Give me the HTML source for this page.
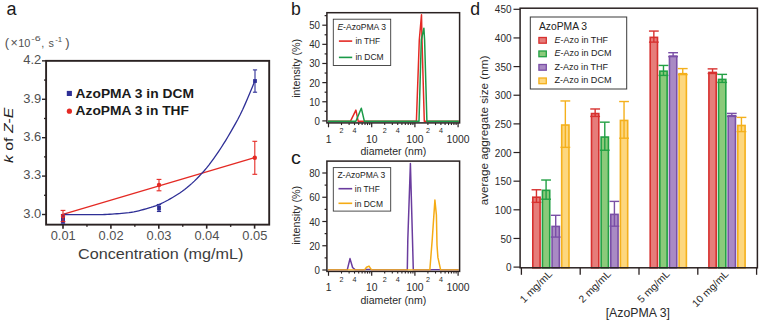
<!DOCTYPE html>
<html><head><meta charset="utf-8"><style>
html,body{margin:0;padding:0;background:#fff;overflow:hidden;width:760px;height:322px;}
svg{display:block;font-family:"Liberation Sans", sans-serif;}
</style></head><body>
<svg width="760" height="322" viewBox="0 0 760 322">
<rect width="760" height="322" fill="#fff"/>
<text x="6.5" y="15" font-size="18" fill="#1a1a1a" text-anchor="start" font-weight="normal" font-style="normal" >a</text>
<g fill="#505050">
<text x="4.8" y="46.6" font-size="13">(</text>
<text x="10.4" y="47" font-size="12.5">×</text>
<text x="18.2" y="46.8" font-size="10.8" textLength="12.2" lengthAdjust="spacingAndGlyphs">10</text>
<text x="31.3" y="41.3" font-size="7.4" textLength="9.5" lengthAdjust="spacingAndGlyphs">-6</text>
<text x="41.3" y="46.8" font-size="10.8">,</text>
<text x="48.6" y="46.8" font-size="10.8">s</text>
<text x="55.2" y="41.6" font-size="7.4" textLength="7" lengthAdjust="spacingAndGlyphs">-1</text>
<text x="65.2" y="46.6" font-size="13">)</text>
</g>
<rect x="46.1" y="60.85" width="223.1" height="163.8" fill="none" stroke="#2a2222" stroke-width="1.9"/>
<line x1="42.00" y1="214.50" x2="46.10" y2="214.50" stroke="#2a2222" stroke-width="1.4"/>
<text x="41.2" y="217.9" font-size="13" fill="#505050" text-anchor="end" font-weight="normal" font-style="normal" textLength="18.0" lengthAdjust="spacingAndGlyphs" >3.0</text>
<line x1="42.00" y1="176.09" x2="46.10" y2="176.09" stroke="#2a2222" stroke-width="1.4"/>
<text x="41.2" y="179.49000000000004" font-size="13" fill="#505050" text-anchor="end" font-weight="normal" font-style="normal" textLength="18.0" lengthAdjust="spacingAndGlyphs" >3.3</text>
<line x1="42.00" y1="137.68" x2="46.10" y2="137.68" stroke="#2a2222" stroke-width="1.4"/>
<text x="41.2" y="141.08" font-size="13" fill="#505050" text-anchor="end" font-weight="normal" font-style="normal" textLength="18.0" lengthAdjust="spacingAndGlyphs" >3.6</text>
<line x1="42.00" y1="99.27" x2="46.10" y2="99.27" stroke="#2a2222" stroke-width="1.4"/>
<text x="41.2" y="102.67000000000002" font-size="13" fill="#505050" text-anchor="end" font-weight="normal" font-style="normal" textLength="18.0" lengthAdjust="spacingAndGlyphs" >3.9</text>
<line x1="42.00" y1="60.86" x2="46.10" y2="60.86" stroke="#2a2222" stroke-width="1.4"/>
<text x="41.2" y="64.25999999999999" font-size="13" fill="#505050" text-anchor="end" font-weight="normal" font-style="normal" textLength="18.0" lengthAdjust="spacingAndGlyphs" >4.2</text>
<line x1="44.00" y1="195.30" x2="46.10" y2="195.30" stroke="#2a2222" stroke-width="1.3"/>
<line x1="44.00" y1="156.88" x2="46.10" y2="156.88" stroke="#2a2222" stroke-width="1.3"/>
<line x1="44.00" y1="118.48" x2="46.10" y2="118.48" stroke="#2a2222" stroke-width="1.3"/>
<line x1="44.00" y1="80.07" x2="46.10" y2="80.07" stroke="#2a2222" stroke-width="1.3"/>
<line x1="63.00" y1="224.65" x2="63.00" y2="228.65" stroke="#2a2222" stroke-width="1.6"/>
<text x="63.2" y="240" font-size="13" fill="#505050" text-anchor="middle" font-weight="normal" font-style="normal" textLength="25.0" lengthAdjust="spacingAndGlyphs" >0.01</text>
<line x1="110.90" y1="224.65" x2="110.90" y2="228.65" stroke="#2a2222" stroke-width="1.6"/>
<text x="111.10000000000001" y="240" font-size="13" fill="#505050" text-anchor="middle" font-weight="normal" font-style="normal" textLength="25.0" lengthAdjust="spacingAndGlyphs" >0.02</text>
<line x1="158.80" y1="224.65" x2="158.80" y2="228.65" stroke="#2a2222" stroke-width="1.6"/>
<text x="158.99999999999997" y="240" font-size="13" fill="#505050" text-anchor="middle" font-weight="normal" font-style="normal" textLength="25.0" lengthAdjust="spacingAndGlyphs" >0.03</text>
<line x1="206.70" y1="224.65" x2="206.70" y2="228.65" stroke="#2a2222" stroke-width="1.6"/>
<text x="206.89999999999998" y="240" font-size="13" fill="#505050" text-anchor="middle" font-weight="normal" font-style="normal" textLength="25.0" lengthAdjust="spacingAndGlyphs" >0.04</text>
<line x1="254.60" y1="224.65" x2="254.60" y2="228.65" stroke="#2a2222" stroke-width="1.6"/>
<text x="254.79999999999998" y="240" font-size="13" fill="#505050" text-anchor="middle" font-weight="normal" font-style="normal" textLength="25.0" lengthAdjust="spacingAndGlyphs" >0.05</text>
<line x1="86.95" y1="224.65" x2="86.95" y2="226.85" stroke="#2a2222" stroke-width="1.4"/>
<line x1="134.85" y1="224.65" x2="134.85" y2="226.85" stroke="#2a2222" stroke-width="1.4"/>
<line x1="182.75" y1="224.65" x2="182.75" y2="226.85" stroke="#2a2222" stroke-width="1.4"/>
<line x1="230.65" y1="224.65" x2="230.65" y2="226.85" stroke="#2a2222" stroke-width="1.4"/>
<text x="78" y="258.8" font-size="14.6" fill="#3c3c3c" text-anchor="start" font-weight="normal" font-style="normal" textLength="165.4" lengthAdjust="spacingAndGlyphs" >Concentration (mg/mL)</text>
<text transform="translate(13,163) rotate(-90)" font-size="13.4" fill="#222" textLength="55.4" lengthAdjust="spacingAndGlyphs"><tspan font-style="italic">k</tspan> of <tspan font-style="italic">Z</tspan>-<tspan font-style="italic">E</tspan></text>
<polyline points="63.70,214.20 254.60,157.60" fill="none" stroke="#e42a24" stroke-width="1.3" stroke-linejoin="round" />
<polyline points="63.70,214.50 66.12,214.52 68.54,214.54 70.96,214.55 73.38,214.56 75.79,214.57 78.21,214.58 80.63,214.59 83.05,214.59 85.47,214.59 87.89,214.60 90.31,214.60 92.73,214.60 95.15,214.60 97.57,214.60 99.98,214.59 102.40,214.55 104.82,214.48 107.24,214.39 109.66,214.26 112.08,214.12 114.50,213.95 116.92,213.76 119.34,213.56 121.76,213.34 124.17,213.12 126.59,212.88 129.01,212.62 131.43,212.26 133.85,211.83 136.27,211.32 138.69,210.76 141.11,210.15 143.53,209.50 145.95,208.84 148.36,208.16 150.78,207.48 153.20,206.72 155.62,205.86 158.04,204.89 160.46,203.85 162.88,202.72 165.30,201.53 167.72,200.26 170.14,198.92 172.55,197.52 174.97,196.05 177.39,194.52 179.81,192.93 182.23,191.25 184.65,189.45 187.07,187.54 189.49,185.51 191.91,183.37 194.33,181.11 196.74,178.75 199.16,176.27 201.58,173.68 204.00,170.96 206.42,168.09 208.84,165.08 211.26,161.92 213.68,158.63 216.10,155.21 218.52,151.66 220.93,147.99 223.35,144.20 225.77,140.29 228.19,136.28 230.61,132.16 233.03,127.94 235.45,123.62 237.87,119.19 240.29,114.47 242.71,109.43 245.12,104.11 247.54,98.57 249.96,92.84 252.38,86.97 254.80,81.00" fill="none" stroke="#2e2f96" stroke-width="1.3" stroke-linejoin="round" />
<line x1="63.00" y1="214.50" x2="63.00" y2="223.20" stroke="#2e2f96" stroke-width="1.1"/>
<line x1="60.90" y1="214.50" x2="65.10" y2="214.50" stroke="#2e2f96" stroke-width="1.1"/>
<line x1="60.90" y1="223.20" x2="65.10" y2="223.20" stroke="#2e2f96" stroke-width="1.1"/>
<rect x="61.1" y="217.0" width="3.8" height="3.8" fill="#2e2f96"/>
<line x1="159.00" y1="204.50" x2="159.00" y2="211.50" stroke="#2e2f96" stroke-width="1.1"/>
<line x1="156.90" y1="204.50" x2="161.10" y2="204.50" stroke="#2e2f96" stroke-width="1.1"/>
<line x1="156.90" y1="211.50" x2="161.10" y2="211.50" stroke="#2e2f96" stroke-width="1.1"/>
<rect x="157.1" y="205.7" width="3.8" height="4.8" fill="#2e2f96"/>
<line x1="255.00" y1="69.90" x2="255.00" y2="92.20" stroke="#2e2f96" stroke-width="1.1"/>
<line x1="252.90" y1="69.90" x2="257.10" y2="69.90" stroke="#2e2f96" stroke-width="1.1"/>
<line x1="252.90" y1="92.20" x2="257.10" y2="92.20" stroke="#2e2f96" stroke-width="1.1"/>
<rect x="253.1" y="79.1" width="3.8" height="3.8" fill="#2e2f96"/>
<rect x="61.1" y="214.0" width="3.7" height="9.0" fill="#2e2f96"/>
<line x1="63.00" y1="210.40" x2="63.00" y2="221.60" stroke="#e42a24" stroke-width="1.1"/>
<line x1="60.60" y1="210.40" x2="65.40" y2="210.40" stroke="#e42a24" stroke-width="1.1"/>
<line x1="60.60" y1="221.60" x2="65.40" y2="221.60" stroke="#e42a24" stroke-width="1.1"/>
<circle cx="63" cy="216" r="1.7" fill="none" stroke="#e42a24" stroke-width="1.1"/>
<line x1="159.00" y1="179.40" x2="159.00" y2="190.80" stroke="#e42a24" stroke-width="1.1"/>
<line x1="156.60" y1="179.40" x2="161.40" y2="179.40" stroke="#e42a24" stroke-width="1.1"/>
<line x1="156.60" y1="190.80" x2="161.40" y2="190.80" stroke="#e42a24" stroke-width="1.1"/>
<circle cx="159" cy="185.0" r="2.2" fill="#e42a24"/>
<line x1="254.80" y1="141.30" x2="254.80" y2="174.30" stroke="#e42a24" stroke-width="1.1"/>
<line x1="252.40" y1="141.30" x2="257.20" y2="141.30" stroke="#e42a24" stroke-width="1.1"/>
<line x1="252.40" y1="174.30" x2="257.20" y2="174.30" stroke="#e42a24" stroke-width="1.1"/>
<circle cx="254.8" cy="157.7" r="2.2" fill="#e42a24"/>
<rect x="66.8" y="90.9" width="5.1" height="5.1" fill="#2e2f96"/>
<circle cx="69.4" cy="111.2" r="2.6" fill="#e42a24"/>
<text x="75.6" y="97.8" font-size="13.7" fill="#1a1a1a" text-anchor="start" font-weight="bold" font-style="normal" textLength="118.3" lengthAdjust="spacingAndGlyphs" >AzoPMA 3 in DCM</text>
<text x="75.6" y="115.3" font-size="13.7" fill="#1a1a1a" text-anchor="start" font-weight="bold" font-style="normal" textLength="113.3" lengthAdjust="spacingAndGlyphs" >AzoPMA 3 in THF</text>
<text x="291.0" y="14.9" font-size="18" fill="#1a1a1a" text-anchor="start" font-weight="normal" font-style="normal" textLength="9.8" lengthAdjust="spacingAndGlyphs" >b</text>
<rect x="326.9" y="12.7" width="132.70000000000005" height="110.2" fill="none" stroke="#2a2222" stroke-width="1.5"/>
<line x1="322.30" y1="120.90" x2="326.90" y2="120.90" stroke="#2a2222" stroke-width="1.2"/>
<text x="320.0" y="124.9" font-size="10.4" fill="#2a2a2a" text-anchor="end" font-weight="normal" font-style="normal" textLength="5.4" lengthAdjust="spacingAndGlyphs" >0</text>
<line x1="322.30" y1="101.76" x2="326.90" y2="101.76" stroke="#2a2222" stroke-width="1.2"/>
<text x="320.0" y="105.76" font-size="10.4" fill="#2a2a2a" text-anchor="end" font-weight="normal" font-style="normal" textLength="10.8" lengthAdjust="spacingAndGlyphs" >10</text>
<line x1="322.30" y1="82.62" x2="326.90" y2="82.62" stroke="#2a2222" stroke-width="1.2"/>
<text x="320.0" y="86.62" font-size="10.4" fill="#2a2a2a" text-anchor="end" font-weight="normal" font-style="normal" textLength="10.8" lengthAdjust="spacingAndGlyphs" >20</text>
<line x1="322.30" y1="63.48" x2="326.90" y2="63.48" stroke="#2a2222" stroke-width="1.2"/>
<text x="320.0" y="67.48000000000002" font-size="10.4" fill="#2a2a2a" text-anchor="end" font-weight="normal" font-style="normal" textLength="10.8" lengthAdjust="spacingAndGlyphs" >30</text>
<line x1="322.30" y1="44.34" x2="326.90" y2="44.34" stroke="#2a2222" stroke-width="1.2"/>
<text x="320.0" y="48.34" font-size="10.4" fill="#2a2a2a" text-anchor="end" font-weight="normal" font-style="normal" textLength="10.8" lengthAdjust="spacingAndGlyphs" >40</text>
<line x1="322.30" y1="25.20" x2="326.90" y2="25.20" stroke="#2a2222" stroke-width="1.2"/>
<text x="320.0" y="29.200000000000003" font-size="10.4" fill="#2a2a2a" text-anchor="end" font-weight="normal" font-style="normal" textLength="10.8" lengthAdjust="spacingAndGlyphs" >50</text>
<line x1="324.60" y1="111.33" x2="326.90" y2="111.33" stroke="#2a2222" stroke-width="1.2"/>
<line x1="324.60" y1="92.19" x2="326.90" y2="92.19" stroke="#2a2222" stroke-width="1.2"/>
<line x1="324.60" y1="73.05" x2="326.90" y2="73.05" stroke="#2a2222" stroke-width="1.2"/>
<line x1="324.60" y1="53.91" x2="326.90" y2="53.91" stroke="#2a2222" stroke-width="1.2"/>
<line x1="324.60" y1="34.77" x2="326.90" y2="34.77" stroke="#2a2222" stroke-width="1.2"/>
<line x1="324.60" y1="15.63" x2="326.90" y2="15.63" stroke="#2a2222" stroke-width="1.2"/>
<line x1="328.50" y1="122.90" x2="328.50" y2="127.30" stroke="#2a2222" stroke-width="1.2"/>
<line x1="341.50" y1="122.90" x2="341.50" y2="125.10" stroke="#2a2222" stroke-width="1.1"/>
<text x="341.504495812684" y="133.4" font-size="7.6" fill="#2a2a2a" text-anchor="middle" font-weight="normal" font-style="normal" textLength="4.0" lengthAdjust="spacingAndGlyphs" >2</text>
<line x1="349.11" y1="122.90" x2="349.11" y2="125.10" stroke="#2a2222" stroke-width="1.1"/>
<line x1="354.51" y1="122.90" x2="354.51" y2="125.10" stroke="#2a2222" stroke-width="1.1"/>
<text x="354.50899162536797" y="133.4" font-size="7.6" fill="#2a2a2a" text-anchor="middle" font-weight="normal" font-style="normal" textLength="4.0" lengthAdjust="spacingAndGlyphs" >4</text>
<line x1="358.70" y1="122.90" x2="358.70" y2="125.10" stroke="#2a2222" stroke-width="1.1"/>
<line x1="362.12" y1="122.90" x2="362.12" y2="125.10" stroke="#2a2222" stroke-width="1.1"/>
<line x1="365.01" y1="122.90" x2="365.01" y2="125.10" stroke="#2a2222" stroke-width="1.1"/>
<line x1="367.51" y1="122.90" x2="367.51" y2="125.10" stroke="#2a2222" stroke-width="1.1"/>
<line x1="369.72" y1="122.90" x2="369.72" y2="125.10" stroke="#2a2222" stroke-width="1.1"/>
<line x1="371.70" y1="122.90" x2="371.70" y2="127.30" stroke="#2a2222" stroke-width="1.2"/>
<line x1="384.70" y1="122.90" x2="384.70" y2="125.10" stroke="#2a2222" stroke-width="1.1"/>
<text x="384.704495812684" y="133.4" font-size="7.6" fill="#2a2a2a" text-anchor="middle" font-weight="normal" font-style="normal" textLength="4.0" lengthAdjust="spacingAndGlyphs" >2</text>
<line x1="392.31" y1="122.90" x2="392.31" y2="125.10" stroke="#2a2222" stroke-width="1.1"/>
<line x1="397.71" y1="122.90" x2="397.71" y2="125.10" stroke="#2a2222" stroke-width="1.1"/>
<text x="397.70899162536796" y="133.4" font-size="7.6" fill="#2a2a2a" text-anchor="middle" font-weight="normal" font-style="normal" textLength="4.0" lengthAdjust="spacingAndGlyphs" >4</text>
<line x1="401.90" y1="122.90" x2="401.90" y2="125.10" stroke="#2a2222" stroke-width="1.1"/>
<line x1="405.32" y1="122.90" x2="405.32" y2="125.10" stroke="#2a2222" stroke-width="1.1"/>
<line x1="408.21" y1="122.90" x2="408.21" y2="125.10" stroke="#2a2222" stroke-width="1.1"/>
<line x1="410.71" y1="122.90" x2="410.71" y2="125.10" stroke="#2a2222" stroke-width="1.1"/>
<line x1="412.92" y1="122.90" x2="412.92" y2="125.10" stroke="#2a2222" stroke-width="1.1"/>
<line x1="414.90" y1="122.90" x2="414.90" y2="127.30" stroke="#2a2222" stroke-width="1.2"/>
<line x1="427.90" y1="122.90" x2="427.90" y2="125.10" stroke="#2a2222" stroke-width="1.1"/>
<text x="427.904495812684" y="133.4" font-size="7.6" fill="#2a2a2a" text-anchor="middle" font-weight="normal" font-style="normal" textLength="4.0" lengthAdjust="spacingAndGlyphs" >2</text>
<line x1="435.51" y1="122.90" x2="435.51" y2="125.10" stroke="#2a2222" stroke-width="1.1"/>
<line x1="440.91" y1="122.90" x2="440.91" y2="125.10" stroke="#2a2222" stroke-width="1.1"/>
<text x="440.908991625368" y="133.4" font-size="7.6" fill="#2a2a2a" text-anchor="middle" font-weight="normal" font-style="normal" textLength="4.0" lengthAdjust="spacingAndGlyphs" >4</text>
<line x1="445.10" y1="122.90" x2="445.10" y2="125.10" stroke="#2a2222" stroke-width="1.1"/>
<line x1="448.52" y1="122.90" x2="448.52" y2="125.10" stroke="#2a2222" stroke-width="1.1"/>
<line x1="451.41" y1="122.90" x2="451.41" y2="125.10" stroke="#2a2222" stroke-width="1.1"/>
<line x1="453.91" y1="122.90" x2="453.91" y2="125.10" stroke="#2a2222" stroke-width="1.1"/>
<line x1="456.12" y1="122.90" x2="456.12" y2="125.10" stroke="#2a2222" stroke-width="1.1"/>
<line x1="458.10" y1="122.90" x2="458.10" y2="127.30" stroke="#2a2222" stroke-width="1.2"/>
<text x="328.5" y="142.5" font-size="10.6" fill="#2a2a2a" text-anchor="middle" font-weight="normal" font-style="normal" textLength="5.75" lengthAdjust="spacingAndGlyphs" >1</text>
<text x="371.7" y="142.5" font-size="10.6" fill="#2a2a2a" text-anchor="middle" font-weight="normal" font-style="normal" textLength="11.5" lengthAdjust="spacingAndGlyphs" >10</text>
<text x="414.9" y="142.5" font-size="10.6" fill="#2a2a2a" text-anchor="middle" font-weight="normal" font-style="normal" textLength="17.25" lengthAdjust="spacingAndGlyphs" >100</text>
<text x="458.1" y="142.5" font-size="10.6" fill="#2a2a2a" text-anchor="middle" font-weight="normal" font-style="normal" textLength="23.0" lengthAdjust="spacingAndGlyphs" >1000</text>
<text x="360.5" y="155.10000000000002" font-size="10.6" fill="#2a2a2a" text-anchor="start" font-weight="normal" font-style="normal" textLength="65.7" lengthAdjust="spacingAndGlyphs" >diameter (nm)</text>
<text transform="translate(300,68.3) rotate(-90)" font-size="10.4" fill="#2a2a2a" text-anchor="middle" textLength="59" lengthAdjust="spacingAndGlyphs">intensity (%)</text>
<clipPath id="clipb"><rect x="327.7" y="13.5" width="131.10000000000005" height="108.60000000000001"/></clipPath>
<g clip-path="url(#clipb)">
<polyline points="328.00,121.30 350.40,121.30 355.90,110.10 358.20,121.30 416.40,121.30 419.30,40.00 421.50,14.70 422.00,40.00 424.30,121.30 460.00,121.30" fill="none" stroke="#e42a24" stroke-width="1.5" stroke-linejoin="round" />
<polyline points="328.00,121.30 355.90,121.30 361.30,108.20 364.40,121.30 419.00,121.30 421.30,40.00 423.90,28.20 424.60,40.00 426.90,121.30 460.00,121.30" fill="none" stroke="#1a9a48" stroke-width="1.5" stroke-linejoin="round" />
</g>
<rect x="333.3" y="19.2" width="57.4" height="46.3" fill="#fff" stroke="#3a3a3a" stroke-width="0.9"/>
<text x="337.4" y="30" font-size="9.2" fill="#222" textLength="48.5" lengthAdjust="spacingAndGlyphs"><tspan font-style="italic">E</tspan>-AzoPMA 3</text>
<line x1="338.90" y1="41.10" x2="352.20" y2="41.10" stroke="#e42a24" stroke-width="1.6"/>
<text x="355.4" y="44.1" font-size="9.2" fill="#222" text-anchor="start" font-weight="normal" font-style="normal" textLength="24.8" lengthAdjust="spacingAndGlyphs" >in THF</text>
<line x1="338.90" y1="57.40" x2="352.20" y2="57.40" stroke="#1a9a48" stroke-width="1.6"/>
<text x="355.4" y="60.4" font-size="9.2" fill="#222" text-anchor="start" font-weight="normal" font-style="normal" textLength="28.3" lengthAdjust="spacingAndGlyphs" >in DCM</text>
<text x="291.0" y="163.8" font-size="18" fill="#1a1a1a" text-anchor="start" font-weight="normal" font-style="normal" textLength="9.8" lengthAdjust="spacingAndGlyphs" >c</text>
<rect x="326.9" y="161.1" width="132.70000000000005" height="110.29999999999998" fill="none" stroke="#2a2222" stroke-width="1.5"/>
<line x1="322.30" y1="270.00" x2="326.90" y2="270.00" stroke="#2a2222" stroke-width="1.2"/>
<text x="320.0" y="274.0" font-size="10.4" fill="#2a2a2a" text-anchor="end" font-weight="normal" font-style="normal" textLength="5.4" lengthAdjust="spacingAndGlyphs" >0</text>
<line x1="322.30" y1="245.75" x2="326.90" y2="245.75" stroke="#2a2222" stroke-width="1.2"/>
<text x="320.0" y="249.75" font-size="10.4" fill="#2a2a2a" text-anchor="end" font-weight="normal" font-style="normal" textLength="10.8" lengthAdjust="spacingAndGlyphs" >20</text>
<line x1="322.30" y1="221.50" x2="326.90" y2="221.50" stroke="#2a2222" stroke-width="1.2"/>
<text x="320.0" y="225.5" font-size="10.4" fill="#2a2a2a" text-anchor="end" font-weight="normal" font-style="normal" textLength="10.8" lengthAdjust="spacingAndGlyphs" >40</text>
<line x1="322.30" y1="197.25" x2="326.90" y2="197.25" stroke="#2a2222" stroke-width="1.2"/>
<text x="320.0" y="201.25" font-size="10.4" fill="#2a2a2a" text-anchor="end" font-weight="normal" font-style="normal" textLength="10.8" lengthAdjust="spacingAndGlyphs" >60</text>
<line x1="322.30" y1="173.00" x2="326.90" y2="173.00" stroke="#2a2222" stroke-width="1.2"/>
<text x="320.0" y="177.0" font-size="10.4" fill="#2a2a2a" text-anchor="end" font-weight="normal" font-style="normal" textLength="10.8" lengthAdjust="spacingAndGlyphs" >80</text>
<line x1="324.60" y1="257.88" x2="326.90" y2="257.88" stroke="#2a2222" stroke-width="1.2"/>
<line x1="324.60" y1="233.62" x2="326.90" y2="233.62" stroke="#2a2222" stroke-width="1.2"/>
<line x1="324.60" y1="209.38" x2="326.90" y2="209.38" stroke="#2a2222" stroke-width="1.2"/>
<line x1="324.60" y1="185.12" x2="326.90" y2="185.12" stroke="#2a2222" stroke-width="1.2"/>
<line x1="328.50" y1="271.40" x2="328.50" y2="275.80" stroke="#2a2222" stroke-width="1.2"/>
<line x1="341.50" y1="271.40" x2="341.50" y2="273.60" stroke="#2a2222" stroke-width="1.1"/>
<text x="341.504495812684" y="281.9" font-size="7.6" fill="#2a2a2a" text-anchor="middle" font-weight="normal" font-style="normal" textLength="4.0" lengthAdjust="spacingAndGlyphs" >2</text>
<line x1="349.11" y1="271.40" x2="349.11" y2="273.60" stroke="#2a2222" stroke-width="1.1"/>
<line x1="354.51" y1="271.40" x2="354.51" y2="273.60" stroke="#2a2222" stroke-width="1.1"/>
<text x="354.50899162536797" y="281.9" font-size="7.6" fill="#2a2a2a" text-anchor="middle" font-weight="normal" font-style="normal" textLength="4.0" lengthAdjust="spacingAndGlyphs" >4</text>
<line x1="358.70" y1="271.40" x2="358.70" y2="273.60" stroke="#2a2222" stroke-width="1.1"/>
<line x1="362.12" y1="271.40" x2="362.12" y2="273.60" stroke="#2a2222" stroke-width="1.1"/>
<line x1="365.01" y1="271.40" x2="365.01" y2="273.60" stroke="#2a2222" stroke-width="1.1"/>
<line x1="367.51" y1="271.40" x2="367.51" y2="273.60" stroke="#2a2222" stroke-width="1.1"/>
<line x1="369.72" y1="271.40" x2="369.72" y2="273.60" stroke="#2a2222" stroke-width="1.1"/>
<line x1="371.70" y1="271.40" x2="371.70" y2="275.80" stroke="#2a2222" stroke-width="1.2"/>
<line x1="384.70" y1="271.40" x2="384.70" y2="273.60" stroke="#2a2222" stroke-width="1.1"/>
<text x="384.704495812684" y="281.9" font-size="7.6" fill="#2a2a2a" text-anchor="middle" font-weight="normal" font-style="normal" textLength="4.0" lengthAdjust="spacingAndGlyphs" >2</text>
<line x1="392.31" y1="271.40" x2="392.31" y2="273.60" stroke="#2a2222" stroke-width="1.1"/>
<line x1="397.71" y1="271.40" x2="397.71" y2="273.60" stroke="#2a2222" stroke-width="1.1"/>
<text x="397.70899162536796" y="281.9" font-size="7.6" fill="#2a2a2a" text-anchor="middle" font-weight="normal" font-style="normal" textLength="4.0" lengthAdjust="spacingAndGlyphs" >4</text>
<line x1="401.90" y1="271.40" x2="401.90" y2="273.60" stroke="#2a2222" stroke-width="1.1"/>
<line x1="405.32" y1="271.40" x2="405.32" y2="273.60" stroke="#2a2222" stroke-width="1.1"/>
<line x1="408.21" y1="271.40" x2="408.21" y2="273.60" stroke="#2a2222" stroke-width="1.1"/>
<line x1="410.71" y1="271.40" x2="410.71" y2="273.60" stroke="#2a2222" stroke-width="1.1"/>
<line x1="412.92" y1="271.40" x2="412.92" y2="273.60" stroke="#2a2222" stroke-width="1.1"/>
<line x1="414.90" y1="271.40" x2="414.90" y2="275.80" stroke="#2a2222" stroke-width="1.2"/>
<line x1="427.90" y1="271.40" x2="427.90" y2="273.60" stroke="#2a2222" stroke-width="1.1"/>
<text x="427.904495812684" y="281.9" font-size="7.6" fill="#2a2a2a" text-anchor="middle" font-weight="normal" font-style="normal" textLength="4.0" lengthAdjust="spacingAndGlyphs" >2</text>
<line x1="435.51" y1="271.40" x2="435.51" y2="273.60" stroke="#2a2222" stroke-width="1.1"/>
<line x1="440.91" y1="271.40" x2="440.91" y2="273.60" stroke="#2a2222" stroke-width="1.1"/>
<text x="440.908991625368" y="281.9" font-size="7.6" fill="#2a2a2a" text-anchor="middle" font-weight="normal" font-style="normal" textLength="4.0" lengthAdjust="spacingAndGlyphs" >4</text>
<line x1="445.10" y1="271.40" x2="445.10" y2="273.60" stroke="#2a2222" stroke-width="1.1"/>
<line x1="448.52" y1="271.40" x2="448.52" y2="273.60" stroke="#2a2222" stroke-width="1.1"/>
<line x1="451.41" y1="271.40" x2="451.41" y2="273.60" stroke="#2a2222" stroke-width="1.1"/>
<line x1="453.91" y1="271.40" x2="453.91" y2="273.60" stroke="#2a2222" stroke-width="1.1"/>
<line x1="456.12" y1="271.40" x2="456.12" y2="273.60" stroke="#2a2222" stroke-width="1.1"/>
<line x1="458.10" y1="271.40" x2="458.10" y2="275.80" stroke="#2a2222" stroke-width="1.2"/>
<text x="328.5" y="291.0" font-size="10.6" fill="#2a2a2a" text-anchor="middle" font-weight="normal" font-style="normal" textLength="5.75" lengthAdjust="spacingAndGlyphs" >1</text>
<text x="371.7" y="291.0" font-size="10.6" fill="#2a2a2a" text-anchor="middle" font-weight="normal" font-style="normal" textLength="11.5" lengthAdjust="spacingAndGlyphs" >10</text>
<text x="414.9" y="291.0" font-size="10.6" fill="#2a2a2a" text-anchor="middle" font-weight="normal" font-style="normal" textLength="17.25" lengthAdjust="spacingAndGlyphs" >100</text>
<text x="458.1" y="291.0" font-size="10.6" fill="#2a2a2a" text-anchor="middle" font-weight="normal" font-style="normal" textLength="23.0" lengthAdjust="spacingAndGlyphs" >1000</text>
<text x="360.5" y="303.59999999999997" font-size="10.6" fill="#2a2a2a" text-anchor="start" font-weight="normal" font-style="normal" textLength="65.7" lengthAdjust="spacingAndGlyphs" >diameter (nm)</text>
<text transform="translate(300,215.3) rotate(-90)" font-size="10.4" fill="#2a2a2a" text-anchor="middle" textLength="59" lengthAdjust="spacingAndGlyphs">intensity (%)</text>
<clipPath id="clipc"><rect x="327.7" y="161.9" width="131.10000000000005" height="108.69999999999999"/></clipPath>
<g clip-path="url(#clipc)">
<polyline points="328.00,270.10 347.20,270.10 350.00,258.60 352.60,267.50 355.50,270.10 364.00,270.10 366.00,269.50 370.00,269.50 372.00,270.10 407.30,270.10 407.80,240.00 410.40,163.50 412.50,240.00 413.30,270.10 430.00,270.10 432.00,269.80 439.00,269.80 441.00,270.10 460.00,270.10" fill="none" stroke="#6a3c9e" stroke-width="1.5" stroke-linejoin="round" />
<polyline points="328.00,270.10 364.40,270.10 366.50,267.20 369.00,266.10 371.70,270.10 429.80,270.10 432.20,240.00 434.90,200.10 436.40,215.00 437.00,245.00 437.90,257.40 440.70,270.10 460.00,270.10" fill="none" stroke="#f5ab14" stroke-width="1.5" stroke-linejoin="round" />
</g>
<rect x="333.3" y="167.6" width="57.4" height="43.5" fill="#fff" stroke="#3a3a3a" stroke-width="0.9"/>
<text x="337.4" y="177.8" font-size="9.2" fill="#222" textLength="47.8" lengthAdjust="spacingAndGlyphs">Z-AzoPMA 3</text>
<line x1="338.50" y1="188.70" x2="352.20" y2="188.70" stroke="#6a3c9e" stroke-width="1.6"/>
<text x="354.8" y="192" font-size="9.2" fill="#222" text-anchor="start" font-weight="normal" font-style="normal" textLength="25" lengthAdjust="spacingAndGlyphs" >in THF</text>
<line x1="338.50" y1="203.30" x2="352.20" y2="203.30" stroke="#f5ab14" stroke-width="1.6"/>
<text x="354.8" y="207.2" font-size="9.2" fill="#222" text-anchor="start" font-weight="normal" font-style="normal" textLength="28.2" lengthAdjust="spacingAndGlyphs" >in DCM</text>
<text x="470.3" y="14.9" font-size="18" fill="#1a1a1a" text-anchor="start" font-weight="normal" font-style="normal" textLength="9.8" lengthAdjust="spacingAndGlyphs" >d</text>
<line x1="513.50" y1="267.10" x2="520.10" y2="267.10" stroke="#2a2222" stroke-width="1.2"/>
<text x="511.5" y="271.20000000000005" font-size="10.4" fill="#2a2a2a" text-anchor="end" font-weight="normal" font-style="normal" textLength="5.55" lengthAdjust="spacingAndGlyphs" >0</text>
<line x1="513.50" y1="238.46" x2="520.10" y2="238.46" stroke="#2a2222" stroke-width="1.2"/>
<text x="511.5" y="242.555" font-size="10.4" fill="#2a2a2a" text-anchor="end" font-weight="normal" font-style="normal" textLength="11.1" lengthAdjust="spacingAndGlyphs" >50</text>
<line x1="513.50" y1="209.81" x2="520.10" y2="209.81" stroke="#2a2222" stroke-width="1.2"/>
<text x="511.5" y="213.91000000000003" font-size="10.4" fill="#2a2a2a" text-anchor="end" font-weight="normal" font-style="normal" textLength="16.65" lengthAdjust="spacingAndGlyphs" >100</text>
<line x1="513.50" y1="181.17" x2="520.10" y2="181.17" stroke="#2a2222" stroke-width="1.2"/>
<text x="511.5" y="185.26500000000001" font-size="10.4" fill="#2a2a2a" text-anchor="end" font-weight="normal" font-style="normal" textLength="16.65" lengthAdjust="spacingAndGlyphs" >150</text>
<line x1="513.50" y1="152.52" x2="520.10" y2="152.52" stroke="#2a2222" stroke-width="1.2"/>
<text x="511.5" y="156.62000000000003" font-size="10.4" fill="#2a2a2a" text-anchor="end" font-weight="normal" font-style="normal" textLength="16.65" lengthAdjust="spacingAndGlyphs" >200</text>
<line x1="513.50" y1="123.88" x2="520.10" y2="123.88" stroke="#2a2222" stroke-width="1.2"/>
<text x="511.5" y="127.97500000000002" font-size="10.4" fill="#2a2a2a" text-anchor="end" font-weight="normal" font-style="normal" textLength="16.65" lengthAdjust="spacingAndGlyphs" >250</text>
<line x1="513.50" y1="95.23" x2="520.10" y2="95.23" stroke="#2a2222" stroke-width="1.2"/>
<text x="511.5" y="99.33000000000004" font-size="10.4" fill="#2a2a2a" text-anchor="end" font-weight="normal" font-style="normal" textLength="16.65" lengthAdjust="spacingAndGlyphs" >300</text>
<line x1="513.50" y1="66.59" x2="520.10" y2="66.59" stroke="#2a2222" stroke-width="1.2"/>
<text x="511.5" y="70.68500000000003" font-size="10.4" fill="#2a2a2a" text-anchor="end" font-weight="normal" font-style="normal" textLength="16.65" lengthAdjust="spacingAndGlyphs" >350</text>
<line x1="513.50" y1="37.94" x2="520.10" y2="37.94" stroke="#2a2222" stroke-width="1.2"/>
<text x="511.5" y="42.04000000000003" font-size="10.4" fill="#2a2a2a" text-anchor="end" font-weight="normal" font-style="normal" textLength="16.65" lengthAdjust="spacingAndGlyphs" >400</text>
<line x1="513.50" y1="9.30" x2="520.10" y2="9.30" stroke="#2a2222" stroke-width="1.2"/>
<text x="511.5" y="13.395000000000016" font-size="10.4" fill="#2a2a2a" text-anchor="end" font-weight="normal" font-style="normal" textLength="16.65" lengthAdjust="spacingAndGlyphs" >450</text>
<line x1="521.40" y1="267.80" x2="521.40" y2="274.80" stroke="#2a2222" stroke-width="1.3"/>
<line x1="580.20" y1="267.80" x2="580.20" y2="274.80" stroke="#2a2222" stroke-width="1.3"/>
<line x1="639.00" y1="267.80" x2="639.00" y2="274.80" stroke="#2a2222" stroke-width="1.3"/>
<line x1="697.80" y1="267.80" x2="697.80" y2="274.80" stroke="#2a2222" stroke-width="1.3"/>
<line x1="756.60" y1="267.80" x2="756.60" y2="274.80" stroke="#2a2222" stroke-width="1.3"/>
<text transform="translate(487.6,130.5) rotate(-90)" font-size="10.4" fill="#2a2a2a" text-anchor="middle" textLength="149.6" lengthAdjust="spacingAndGlyphs">average aggregate size (nm)</text>
<text x="605.7" y="317.1" font-size="13.2" fill="#2a2a2a" text-anchor="start" font-weight="normal" font-style="normal" textLength="64.3" lengthAdjust="spacingAndGlyphs" >[AzoPMA 3]</text>
<text transform="translate(552.8,274.7) rotate(-45)" font-size="10.2" fill="#2a2a2a" text-anchor="end" textLength="40.800000000000004" lengthAdjust="spacingAndGlyphs">1 mg/mL</text>
<text transform="translate(611.5999999999999,274.7) rotate(-45)" font-size="10.2" fill="#2a2a2a" text-anchor="end" textLength="40.800000000000004" lengthAdjust="spacingAndGlyphs">2 mg/mL</text>
<text transform="translate(670.4,274.7) rotate(-45)" font-size="10.2" fill="#2a2a2a" text-anchor="end" textLength="40.800000000000004" lengthAdjust="spacingAndGlyphs">5 mg/mL</text>
<text transform="translate(729.1999999999999,274.7) rotate(-45)" font-size="10.2" fill="#2a2a2a" text-anchor="end" textLength="46.7" lengthAdjust="spacingAndGlyphs">10 mg/mL</text>
<rect x="532.80" y="197.21" width="7.30" height="70.59" fill="#e67d7a" stroke="#d7312f" stroke-width="1.6"/>
<line x1="536.45" y1="189.76" x2="536.45" y2="202.36" stroke="#d7312f" stroke-width="1.4"/>
<line x1="531.55" y1="189.76" x2="541.35" y2="189.76" stroke="#d7312f" stroke-width="1.4"/>
<line x1="531.55" y1="202.36" x2="541.35" y2="202.36" stroke="#d7312f" stroke-width="1.4"/>
<rect x="542.43" y="190.33" width="7.30" height="77.47" fill="#8bca7a" stroke="#22a044" stroke-width="1.6"/>
<line x1="546.08" y1="180.02" x2="546.08" y2="199.21" stroke="#22a044" stroke-width="1.4"/>
<line x1="541.18" y1="180.02" x2="550.98" y2="180.02" stroke="#22a044" stroke-width="1.4"/>
<line x1="541.18" y1="199.21" x2="550.98" y2="199.21" stroke="#22a044" stroke-width="1.4"/>
<rect x="552.06" y="226.42" width="7.30" height="41.38" fill="#a98ac4" stroke="#7a4fa6" stroke-width="1.6"/>
<line x1="555.71" y1="215.31" x2="555.71" y2="237.08" stroke="#7a4fa6" stroke-width="1.4"/>
<line x1="550.81" y1="215.31" x2="560.61" y2="215.31" stroke="#7a4fa6" stroke-width="1.4"/>
<line x1="550.81" y1="237.08" x2="560.61" y2="237.08" stroke="#7a4fa6" stroke-width="1.4"/>
<rect x="561.69" y="125.02" width="7.30" height="142.78" fill="#fdd77e" stroke="#f4b01c" stroke-width="1.6"/>
<line x1="565.34" y1="100.96" x2="565.34" y2="147.36" stroke="#f4b01c" stroke-width="1.4"/>
<line x1="560.44" y1="100.96" x2="570.24" y2="100.96" stroke="#f4b01c" stroke-width="1.4"/>
<line x1="560.44" y1="147.36" x2="570.24" y2="147.36" stroke="#f4b01c" stroke-width="1.4"/>
<rect x="591.50" y="113.56" width="7.30" height="154.24" fill="#e67d7a" stroke="#d7312f" stroke-width="1.6"/>
<line x1="595.15" y1="108.98" x2="595.15" y2="116.43" stroke="#d7312f" stroke-width="1.4"/>
<line x1="590.25" y1="108.98" x2="600.05" y2="108.98" stroke="#d7312f" stroke-width="1.4"/>
<line x1="590.25" y1="116.43" x2="600.05" y2="116.43" stroke="#d7312f" stroke-width="1.4"/>
<rect x="601.13" y="137.05" width="7.30" height="130.75" fill="#8bca7a" stroke="#22a044" stroke-width="1.6"/>
<line x1="604.78" y1="122.16" x2="604.78" y2="150.23" stroke="#22a044" stroke-width="1.4"/>
<line x1="599.88" y1="122.16" x2="609.68" y2="122.16" stroke="#22a044" stroke-width="1.4"/>
<line x1="599.88" y1="150.23" x2="609.68" y2="150.23" stroke="#22a044" stroke-width="1.4"/>
<rect x="610.76" y="214.39" width="7.30" height="53.41" fill="#a98ac4" stroke="#7a4fa6" stroke-width="1.6"/>
<line x1="614.41" y1="201.39" x2="614.41" y2="226.19" stroke="#7a4fa6" stroke-width="1.4"/>
<line x1="609.51" y1="201.39" x2="619.31" y2="201.39" stroke="#7a4fa6" stroke-width="1.4"/>
<line x1="609.51" y1="226.19" x2="619.31" y2="226.19" stroke="#7a4fa6" stroke-width="1.4"/>
<rect x="620.39" y="120.44" width="7.30" height="147.36" fill="#fdd77e" stroke="#f4b01c" stroke-width="1.6"/>
<line x1="624.04" y1="101.53" x2="624.04" y2="138.20" stroke="#f4b01c" stroke-width="1.4"/>
<line x1="619.14" y1="101.53" x2="628.94" y2="101.53" stroke="#f4b01c" stroke-width="1.4"/>
<line x1="619.14" y1="138.20" x2="628.94" y2="138.20" stroke="#f4b01c" stroke-width="1.4"/>
<rect x="650.20" y="37.37" width="7.30" height="230.43" fill="#e67d7a" stroke="#d7312f" stroke-width="1.6"/>
<line x1="653.85" y1="31.07" x2="653.85" y2="42.12" stroke="#d7312f" stroke-width="1.4"/>
<line x1="648.95" y1="31.07" x2="658.75" y2="31.07" stroke="#d7312f" stroke-width="1.4"/>
<line x1="648.95" y1="42.12" x2="658.75" y2="42.12" stroke="#d7312f" stroke-width="1.4"/>
<rect x="659.83" y="71.17" width="7.30" height="196.63" fill="#8bca7a" stroke="#22a044" stroke-width="1.6"/>
<line x1="663.48" y1="65.44" x2="663.48" y2="75.41" stroke="#22a044" stroke-width="1.4"/>
<line x1="658.58" y1="65.44" x2="668.38" y2="65.44" stroke="#22a044" stroke-width="1.4"/>
<line x1="658.58" y1="75.41" x2="668.38" y2="75.41" stroke="#22a044" stroke-width="1.4"/>
<rect x="669.46" y="56.10" width="7.30" height="211.70" fill="#a98ac4" stroke="#7a4fa6" stroke-width="1.6"/>
<line x1="673.11" y1="52.72" x2="673.11" y2="56.62" stroke="#7a4fa6" stroke-width="1.4"/>
<line x1="668.21" y1="52.72" x2="678.01" y2="52.72" stroke="#7a4fa6" stroke-width="1.4"/>
<line x1="668.21" y1="56.62" x2="678.01" y2="56.62" stroke="#7a4fa6" stroke-width="1.4"/>
<rect x="679.09" y="73.69" width="7.30" height="194.11" fill="#fdd77e" stroke="#f4b01c" stroke-width="1.6"/>
<line x1="682.74" y1="68.59" x2="682.74" y2="74.61" stroke="#f4b01c" stroke-width="1.4"/>
<line x1="677.84" y1="68.59" x2="687.64" y2="68.59" stroke="#f4b01c" stroke-width="1.4"/>
<line x1="677.84" y1="74.61" x2="687.64" y2="74.61" stroke="#f4b01c" stroke-width="1.4"/>
<rect x="708.90" y="72.43" width="7.30" height="195.37" fill="#e67d7a" stroke="#d7312f" stroke-width="1.6"/>
<line x1="712.55" y1="68.88" x2="712.55" y2="73.46" stroke="#d7312f" stroke-width="1.4"/>
<line x1="707.65" y1="68.88" x2="717.45" y2="68.88" stroke="#d7312f" stroke-width="1.4"/>
<line x1="707.65" y1="73.46" x2="717.45" y2="73.46" stroke="#d7312f" stroke-width="1.4"/>
<rect x="718.53" y="79.42" width="7.30" height="188.38" fill="#8bca7a" stroke="#22a044" stroke-width="1.6"/>
<line x1="722.18" y1="74.38" x2="722.18" y2="82.40" stroke="#22a044" stroke-width="1.4"/>
<line x1="717.28" y1="74.38" x2="727.08" y2="74.38" stroke="#22a044" stroke-width="1.4"/>
<line x1="717.28" y1="82.40" x2="727.08" y2="82.40" stroke="#22a044" stroke-width="1.4"/>
<rect x="728.16" y="115.68" width="7.30" height="152.12" fill="#a98ac4" stroke="#7a4fa6" stroke-width="1.6"/>
<line x1="731.81" y1="113.39" x2="731.81" y2="116.43" stroke="#7a4fa6" stroke-width="1.4"/>
<line x1="726.91" y1="113.39" x2="736.71" y2="113.39" stroke="#7a4fa6" stroke-width="1.4"/>
<line x1="726.91" y1="116.43" x2="736.71" y2="116.43" stroke="#7a4fa6" stroke-width="1.4"/>
<rect x="737.79" y="125.48" width="7.30" height="142.32" fill="#fdd77e" stroke="#f4b01c" stroke-width="1.6"/>
<line x1="741.44" y1="117.40" x2="741.44" y2="131.61" stroke="#f4b01c" stroke-width="1.4"/>
<line x1="736.54" y1="117.40" x2="746.34" y2="117.40" stroke="#f4b01c" stroke-width="1.4"/>
<line x1="736.54" y1="131.61" x2="746.34" y2="131.61" stroke="#f4b01c" stroke-width="1.4"/>
<rect x="520.1" y="8.2" width="237.29999999999995" height="259.6" fill="none" stroke="#2a2222" stroke-width="1.5"/>
<rect x="530.3" y="17" width="96.4" height="72" fill="#fff" stroke="#3a3a3a" stroke-width="1"/>
<text x="538.9" y="30.2" font-size="10.2" fill="#222" text-anchor="start" font-weight="normal" font-style="normal" textLength="48.2" lengthAdjust="spacingAndGlyphs" >AzoPMA 3</text>
<rect x="538.9" y="37.50" width="7.4" height="5.7" fill="#e67d7a" stroke="#d7312f" stroke-width="1.3"/>
<text x="554.5" y="42.90" font-size="9.4" fill="#222" textLength="53.6" lengthAdjust="spacingAndGlyphs"><tspan font-style="italic">E</tspan>-Azo in THF</text>
<rect x="538.9" y="51.00" width="7.4" height="5.7" fill="#8bca7a" stroke="#22a044" stroke-width="1.3"/>
<text x="554.5" y="56.40" font-size="9.4" fill="#222" textLength="57.1" lengthAdjust="spacingAndGlyphs"><tspan font-style="italic">E</tspan>-Azo in DCM</text>
<rect x="538.9" y="64.50" width="7.4" height="5.7" fill="#a98ac4" stroke="#7a4fa6" stroke-width="1.3"/>
<text x="554.5" y="69.90" font-size="9.4" fill="#222" textLength="53.6" lengthAdjust="spacingAndGlyphs"><tspan font-style="normal">Z</tspan>-Azo in THF</text>
<rect x="538.9" y="78.00" width="7.4" height="5.7" fill="#fdd77e" stroke="#f4b01c" stroke-width="1.3"/>
<text x="554.5" y="83.40" font-size="9.4" fill="#222" textLength="57.1" lengthAdjust="spacingAndGlyphs"><tspan font-style="normal">Z</tspan>-Azo in DCM</text>
</svg></body></html>
